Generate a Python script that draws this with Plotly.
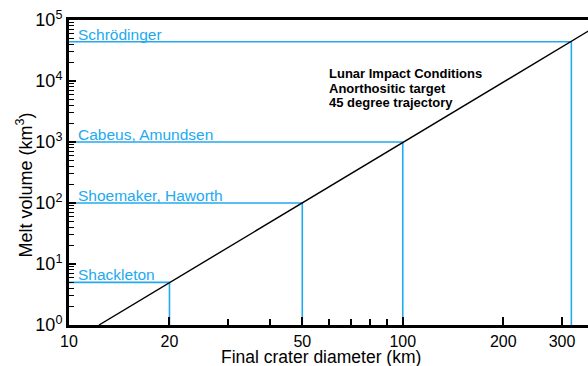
import math
import plotly.graph_objects as go

# ---- data ----
crater_names = ["Shackleton", "Shoemaker, Haworth", "Cabeus, Amundsen", "Schrödinger"]
crater_diam_km = [20, 50, 100, 320]
crater_melt_km3 = [5, 100, 1000, 44000]

trend_diam_km = [12.3, 360]
trend_melt_km3 = [1, 66000]

x_tick_vals = [10, 20, 50, 100, 200, 300]
x_tick_text = ["10", "20", "50", "100", "200", "300"]
x_minor_vals = [30, 40, 60, 70, 80, 90]
y_tick_vals = [1, 10, 100, 1000, 10000, 100000]
y_tick_text = ["10<sup>0</sup>", "10<sup>1</sup>", "10<sup>2</sup>", "10<sup>3</sup>",
               "10<sup>4</sup>", "10<sup>5</sup>"]
y_minor_vals = [m * 10 ** e for e in range(0, 5) for m in range(2, 10)]

info_lines = ["Lunar Impact Conditions", "Anorthositic target", "45 degree trajectory"]
x_title = "Final crater diameter (km)"
y_title = "Melt volume (km<sup>3</sup>)"

BLUE = "#22a9f0"
FONT = "Liberation Sans, Arial, sans-serif"

fig = go.Figure()

x_min = x_tick_vals[0]
y_min = y_tick_vals[0]
for name, d, v in zip(crater_names, crater_diam_km, crater_melt_km3):
    fig.add_trace(go.Scatter(
        x=[x_min, d, d], y=[v, v, y_min], mode="lines",
        line=dict(color=BLUE, width=1.6), showlegend=False, hoverinfo="skip"))
    fig.add_annotation(
        x=math.log10(x_min), y=math.log10(v), xref="x", yref="y",
        text=name, showarrow=False, xanchor="left", yanchor="bottom",
        xshift=7, yshift=-3, font=dict(family=FONT, size=15.5, color=BLUE))

fig.add_trace(go.Scatter(
    x=trend_diam_km, y=trend_melt_km3, mode="lines",
    line=dict(color="black", width=1.4), showlegend=False, hoverinfo="skip"))

for i, t in enumerate(info_lines):
    fig.add_annotation(
        x=0.497, y=0.826 - i * 0.049, xref="paper", yref="paper",
        text=f"<b>{t}</b>", showarrow=False, xanchor="left", yanchor="middle",
        font=dict(family=FONT, size=13, color="black"))

# axis titles as annotations for exact placement
fig.add_annotation(
    x=0.486, y=-0.105, xref="paper", yref="paper", text=x_title, showarrow=False,
    xanchor="center", yanchor="middle", borderpad=0,
    font=dict(family=FONT, size=17.5, color="black"))
fig.add_annotation(
    x=-0.085, y=0.46, xref="paper", yref="paper", text=y_title, showarrow=False,
    textangle=-90, xanchor="center", yanchor="middle",
    font=dict(family=FONT, size=18, color="black"))

fig.update_layout(
    width=588, height=366,
    margin=dict(l=69, r=0, t=20, b=41),
    paper_bgcolor="white", plot_bgcolor="white",
    font=dict(family=FONT, color="black"),
    xaxis=dict(
        type="log", range=[1, 2.555], automargin=False,
        tickmode="array", tickvals=x_tick_vals, ticktext=x_tick_text,
        ticks="inside", ticklen=8, tickwidth=1.5, tickcolor="black",
        minor=dict(tickmode="array", tickvals=x_minor_vals, ticks="inside",
                   ticklen=6, tickwidth=1.5, tickcolor="black"),
        showgrid=False, zeroline=False,
        showline=True, linewidth=3, linecolor="black", mirror=True,
        tickfont=dict(size=16, family=FONT),
    ),
    yaxis=dict(
        type="log", range=[0, 5], automargin=False,
        tickmode="array", tickvals=y_tick_vals, ticktext=y_tick_text,
        ticks="inside", ticklen=7, tickwidth=1.5, tickcolor="black",
        minor=dict(tickmode="array", tickvals=y_minor_vals, ticks="inside",
                   ticklen=5, tickwidth=1.2, tickcolor="black"),
        showgrid=False, zeroline=False,
        showline=True, linewidth=3, linecolor="black",
        tickfont=dict(size=18, family=FONT),
    ),
)

fig.write_html(
    "out.html",
    config={"displayModeBar": False},
    post_script="document.body.style.margin='0';document.body.style.overflow='hidden';",
)
